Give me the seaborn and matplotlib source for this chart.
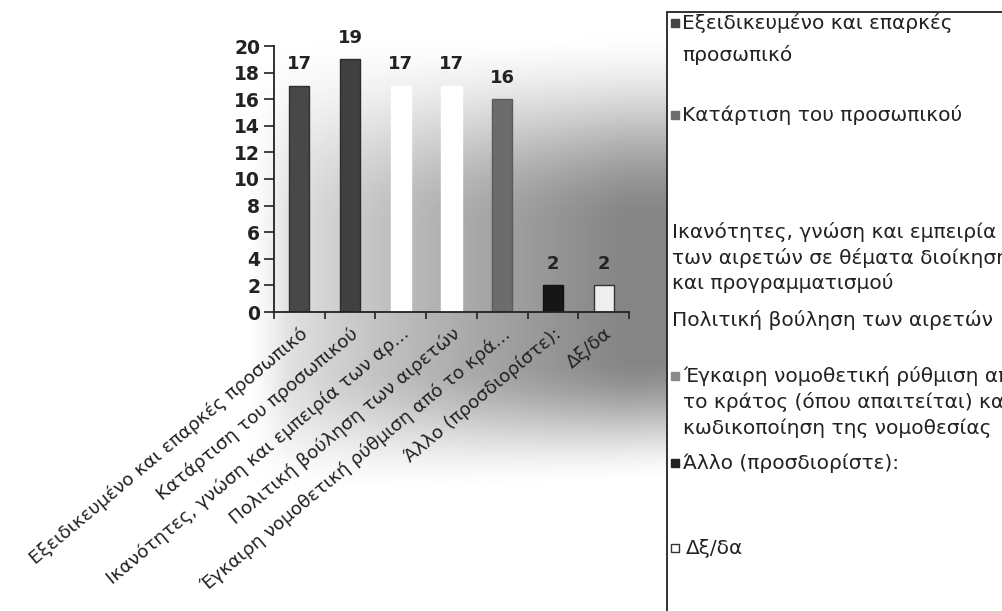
import numpy as np
import pandas as pd
import matplotlib
matplotlib.use("Agg")
import matplotlib.pyplot as plt
import matplotlib.transforms as mtransforms
import seaborn as sns
from matplotlib.patches import Rectangle

# ---------------- data ----------------
categories = [
    "Εξειδικευμένο και επαρκές προσωπικό",
    "Κατάρτιση του προσωπικού",
    "Ικανότητες, γνώση και εμπειρία των αιρετών σε θέματα διοίκησης και προγραμματισμού",
    "Πολιτική βούληση των αιρετών",
    "Έγκαιρη νομοθετική ρύθμιση από το κράτος (όπου απαιτείται) και κωδικοποίηση της νομοθεσίας",
    "Άλλο (προσδιορίστε):",
    "Δξ/δα",
]
tick_labels = [
    "Εξειδικευμένο και επαρκές προσωπικό",
    "Κατάρτιση του προσωπικού",
    "Ικανότητες, γνώση και εμπειρία των αρ...",
    "Πολιτική βούληση των αιρετών",
    "Έγκαιρη νομοθετική ρύθμιση από το κρά...",
    "Άλλο (προσδιορίστε):",
    "Δξ/δα",
]
values = [17, 19, 17, 17, 16, 2, 2]
bar_colors = ["#484848", "#404040", "#ffffff", "#ffffff", "#6c6c6c", "#161616", "#eeeeee"]
edge_colors = ["#303030", "#2c2c2c", "#ffffff", "#ffffff", "#5a5a5a", "#111111", "#333333"]
legend_labels = [
    ["Εξειδικευμένο και επαρκές", "προσωπικό"],
    ["Κατάρτιση του προσωπικού"],
    ["Ικανότητες, γνώση και εμπειρία", "των αιρετών σε θέματα διοίκησης", "και προγραμματισμού"],
    ["Πολιτική βούληση των αιρετών"],
    ["Έγκαιρη νομοθετική ρύθμιση από", "το κράτος (όπου απαιτείται) και", "κωδικοποίηση της νομοθεσίας"],
    ["Άλλο (προσδιορίστε):"],
    ["Δξ/δα"],
]
legend_marker_colors = ["#454545", "#6e6e6e", "#ffffff", "#ffffff", "#8a8a8a", "#222222", "#ffffff"]
legend_marker_edges = ["#454545", "#6e6e6e", "#ffffff", "#ffffff", "#8a8a8a", "#222222", "#333333"]

df = pd.DataFrame({"category": categories, "value": values})

# ---------------- figure ----------------
W, H = 1002, 611
sns.set_theme(style="white")
plt.rcParams["font.family"] = ["DejaVu Sans"]
fig = plt.figure(figsize=(W / 100, H / 100), dpi=100)


def smooth(t):
    t = np.clip(t, 0, 1)
    return t * t * (3 - 2 * t)


# decorative background gradient
bg = fig.add_axes([0, 0, 1, 1], zorder=-10)
X, Y = np.meshgrid(np.arange(W, dtype=float), np.arange(H, dtype=float))
rx = np.clip((X - 235) / 390, 0, 1) ** 0.7 * smooth((X - 235) / 60)
bottom_edge = 505 - 0.05 * (X - 250)
ry = smooth((Y - 25) / 200) * smooth((bottom_edge - Y) / 130)
shade = 1 - 0.48 * rx * ry
bg.imshow(shade, cmap="gray", vmin=0, vmax=1, extent=(0, W, H, 0), aspect="auto")
bg.set_axis_off()

# main axes
ax = fig.add_axes([274 / W, (H - 312) / H, 355 / W, 266 / H])
ax.set_facecolor("none")
sns.barplot(data=df, x="category", y="value", hue="category", palette=bar_colors,
            width=0.4, legend=False, ax=ax, saturation=1)
for p, ec in zip(ax.patches, edge_colors):
    p.set_edgecolor(ec)
    p.set_linewidth(1.0)
for c in ax.containers:
    ax.bar_label(c, padding=9, fontsize=13, fontweight="bold", color="#222222")

ax.set_ylim(0, 20)
ax.set_xlim(-0.5, 6.5)
ax.set_yticks(range(0, 21, 2))
ax.set_xticks(range(len(categories)))
ax.set_xticklabels(tick_labels, rotation=40, ha="right", rotation_mode="anchor",
                   fontsize=13.3, color="#222222")
shift = mtransforms.ScaledTranslation(-10 / 100, 0, fig.dpi_scale_trans)
for t in ax.get_xticklabels():
    t.set_transform(t.get_transform() + shift)
ax.set_xticks(np.arange(-0.5, 7, 1), minor=True)
ax.tick_params(axis="x", which="major", length=0, pad=9)
ax.tick_params(axis="x", which="minor", length=5, width=1.2, direction="out", bottom=True, color="#222222")
ax.tick_params(axis="y", length=7, width=1.2, direction="out", left=True, color="#222222",
               labelsize=13.5, pad=3)
for t in ax.get_yticklabels():
    t.set_fontweight("bold")
    t.set_color("#222222")
ax.set_xlabel("")
ax.set_ylabel("")
for s in ["top", "right"]:
    ax.spines[s].set_visible(False)
for s in ["left", "bottom"]:
    ax.spines[s].set_color("#222222")
    ax.spines[s].set_linewidth(1.3)
ax.grid(False)

# legend panel (manual, matching the irregular spacing of the original)
fig.patches.append(Rectangle((667 / W, -0.01), 1, (H - 12) / H + 0.01, transform=fig.transFigure,
                             facecolor="white", edgecolor="#222222", linewidth=1.3, zorder=5))
line_y = [[23, 55], [115], [232, 258, 283], [320], [376, 402, 428], [463], [548]]
text_x = [682, 682, 672, 672, 683, 683, 686]
for labels, ys, tx, fc, ec in zip(legend_labels, line_y, text_x, legend_marker_colors, legend_marker_edges):
    fig.patches.append(Rectangle((671 / W, (H - ys[0] - 4) / H), 8 / W, 8 / H,
                                 transform=fig.transFigure, facecolor=fc, edgecolor=ec,
                                 linewidth=1.0, zorder=6))
    for lab, yy in zip(labels, ys):
        fig.text(tx / W, (H - yy) / H, lab, fontsize=14.5, va="center", ha="left",
                 color="#222222", zorder=7)

fig.savefig("out.png", dpi=100)
